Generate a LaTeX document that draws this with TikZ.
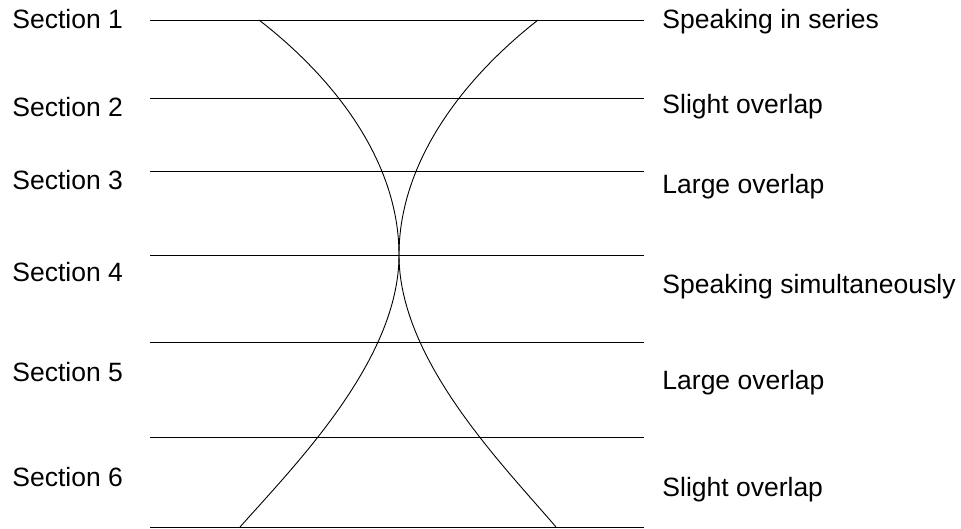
\documentclass[tikz,border=0pt]{standalone}
\usepackage{fontspec}
\setmainfont{Liberation Sans}
\usetikzlibrary{positioning}

\tikzset{lbl/.style={anchor=west,inner sep=0pt,font=\fontsize{26.5}{30}\selectfont}}

\begin{document}
\begin{tikzpicture}[x=1pt,y=-1pt,line width=0.9pt]
  \useasboundingbox (0,0) rectangle (961,529);
  % section boundaries
  \foreach \y in {20,98,171,255,342,437,527}{
    \draw (150,\y) -- (644,\y);
  }
  % the two speakers
  \coordinate (mid) at (399,255);
  \draw (259,20) .. controls (339,82) and (399,165) .. (mid)
        .. controls (399,360) and (295,465) .. (240,527);
  \draw (538,20) .. controls (459,82) and (399,165) .. (mid)
        .. controls (399,360) and (503,465) .. (556,527);
  % left labels
  \foreach \i/\y in {1/19,2/107,3/180,4/272,5/372,6/477}{
    \node[lbl] (sec\i) at (12,\y) {Section \i};
  }
  % right labels
  \node[lbl] (ser) at (662,22) {Speaking in series};
  \node[lbl] (sl1) at (662,107) {Slight overlap};
  \node[lbl] (lo1) at (662,187) {Large overlap};
  \node[lbl] (sim) at (662,287) {Speaking simultaneously};
  \node[lbl] (lo2) at (662,383) {Large overlap};
  \node[lbl] (sl2) at (662,490) {Slight overlap};
\end{tikzpicture}
\end{document}
